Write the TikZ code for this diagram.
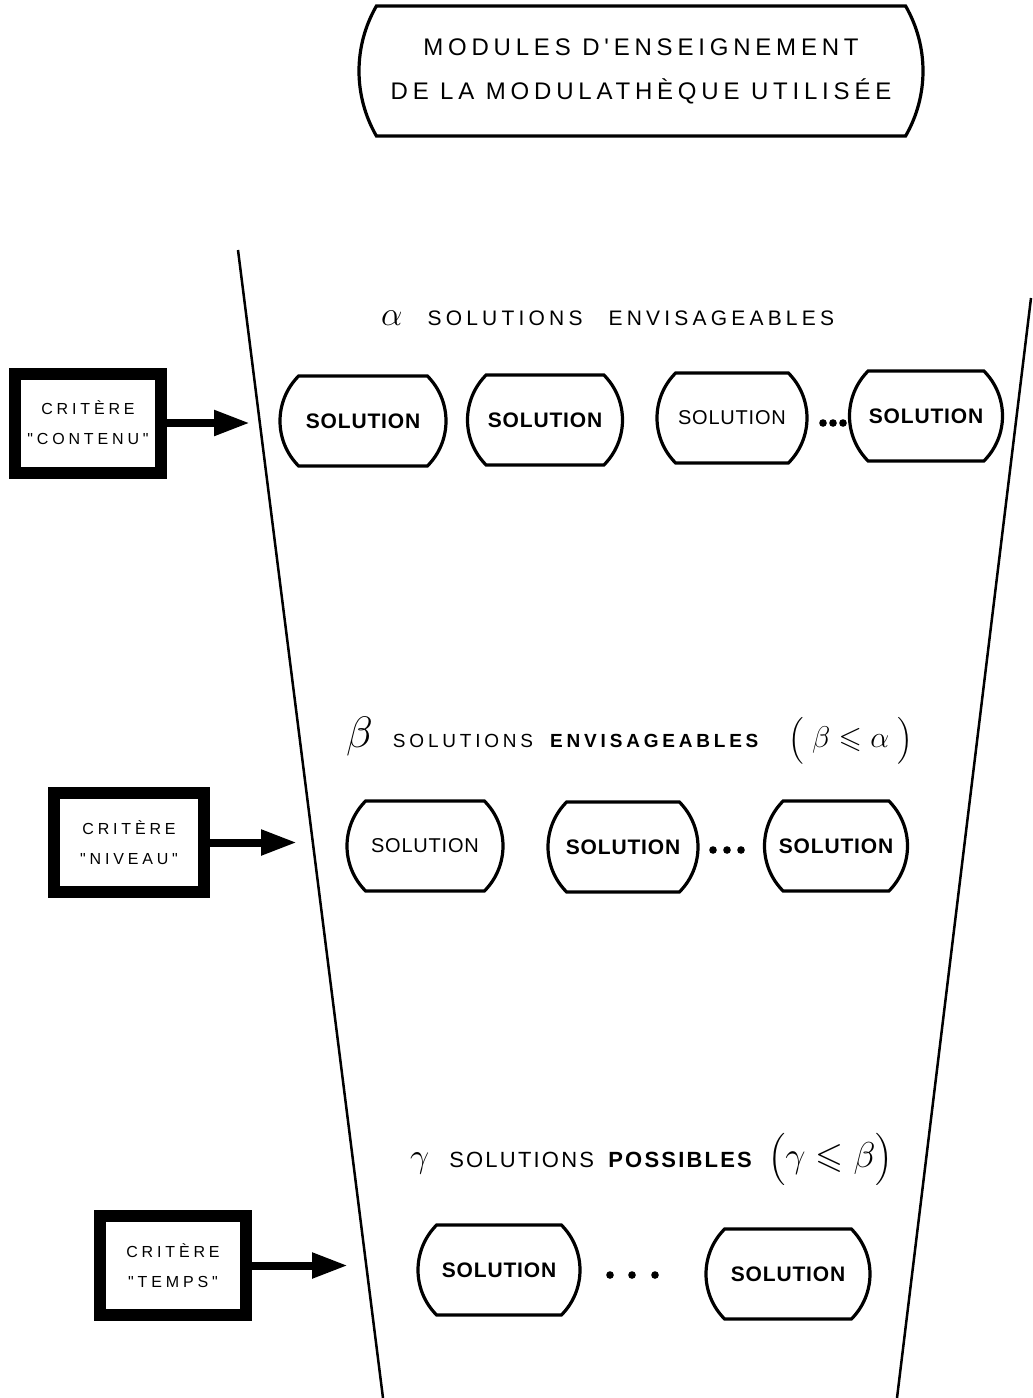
\RequirePackage{fix-cm}
\documentclass[tikz,border=0pt]{standalone}
\usepackage{amsmath}
\usepackage{amssymb}
\usepackage{fontspec}
\setmainfont{Liberation Sans}
\newfontfamily\hand[LetterSpace=20]{Liberation Sans}
\newfontfamily\handmid[LetterSpace=10]{Liberation Sans}
\newfontfamily\handwide[LetterSpace=24]{Liberation Sans}
\newfontfamily\handtight[LetterSpace=4]{Liberation Sans}
\usepackage{tikz}
\usetikzlibrary{shapes.misc, arrows.meta}

\begin{document}
\begin{tikzpicture}[x=1pt, y=-1pt,
  barrel/.style={draw=black, line width=3.2pt, rounded rectangle, rounded rectangle arc length=90, minimum height=90pt, inner sep=0pt},
  sol/.style={barrel, font=\handtight\fontsize{20}{20}\selectfont},
  solb/.style={barrel, font=\handtight\bfseries\fontsize{21}{21}\selectfont},
  critbox/.style={draw=black, line width=12pt, rectangle, minimum width=146pt, minimum height=99pt, inner sep=0pt, align=center, font=\handwide\fontsize{16}{30}\selectfont},
  header/.style={anchor=base west, inner sep=0pt},
  fat/.style={line width=8pt, -{Triangle[length=36pt,width=24pt]}},
  funnel/.style={line width=2.5pt}]

\useasboundingbox (0,0) rectangle (1033,1398);

\node[barrel, rounded rectangle arc length=60, minimum width=564pt, minimum height=130pt, align=center, font=\hand\fontsize{24}{44}\selectfont] (modules) at (641,71) {MODULES D'ENSEIGNEMENT\\DE LA MODULATHÈQUE UTILISÉE};

\coordinate (ltop) at (238,250);
\coordinate (lbot) at (383,1398);
\coordinate (rtop) at (1031,298);
\coordinate (rbot) at (897,1398);
\draw[funnel] (ltop) -- (lbot);
\draw[funnel] (rtop) -- (rbot);

\node[header, font=\hand\fontsize{21}{21}\selectfont] (alpha) at (381,325) {{\fontsize{34}{34}\selectfont$\alpha$}\hspace{25pt}SOLUTIONS\hspace{16pt} ENVISAGEABLES};
\node[solb, minimum width=166pt] (s11) at (363,421) {SOLUTION};
\node[solb, minimum width=155pt] (s12) at (545,420) {SOLUTION};
\node[sol, minimum width=150pt] (s13) at (732,418) {SOLUTION};
\node[solb, minimum width=153pt] (s14) at (926,416) {SOLUTION};
\foreach \x in {823,833,843} \fill (\x,423) circle (3.8pt);

\node[header, font=\hand\fontsize{19}{19}\selectfont] (beta) at (346,747) {{\fontsize{44}{44}\selectfont$\beta$}\hspace{20pt}SOLUTIONS\hspace{8pt} \textbf{ENVISAGEABLES}\hspace{26pt}{\fontsize{26}{26}\selectfont$\Big($}{\fontsize{30}{30}\selectfont$\;\beta\leqslant\alpha\;$}{\fontsize{26}{26}\selectfont$\Big)$}};
\node[sol, minimum width=156pt] (s21) at (425,846) {SOLUTION};
\node[solb, minimum width=150pt] (s22) at (623,847) {SOLUTION};
\node[solb, minimum width=143pt] (s23) at (836,846) {SOLUTION};
\foreach \x in {713,727,741} \fill (\x,850) circle (3.8pt);

\node[header, font=\handmid\fontsize{22}{22}\selectfont] (gamma) at (410,1167) {{\fontsize{34}{34}\selectfont$\gamma$}\hspace{20pt}SOLUTIONS\hspace{6pt} \textbf{POSSIBLES}\hspace{14pt}{\fontsize{29}{29}\selectfont$\Big($}{\fontsize{36}{36}\selectfont$\gamma\leqslant\beta$}{\fontsize{29}{29}\selectfont$\Big)$}};
\node[solb, minimum width=162pt] (s31) at (499,1270) {SOLUTION};
\node[solb, minimum width=164pt] (s32) at (788,1274) {SOLUTION};
\foreach \x in {610,632,655} \fill (\x,1275) circle (3.8pt);

\node[critbox] (contenu) at (88,423) {CRITÈRE\\"CONTENU"};
\node[critbox, minimum width=150pt] (niveau) at (129,842.5) {CRITÈRE\\"NIVEAU"};
\node[critbox] (temps) at (173,1265.5) {CRITÈRE\\"TEMPS"};

\coordinate (t1) at (250,423);
\coordinate (t2) at (297,842.5);
\coordinate (t3) at (348,1265.5);
\draw[fat] (contenu.east) -- (t1);
\draw[fat] (niveau.east) -- (t2);
\draw[fat] (temps.east) -- (t3);

\end{tikzpicture}
\end{document}
